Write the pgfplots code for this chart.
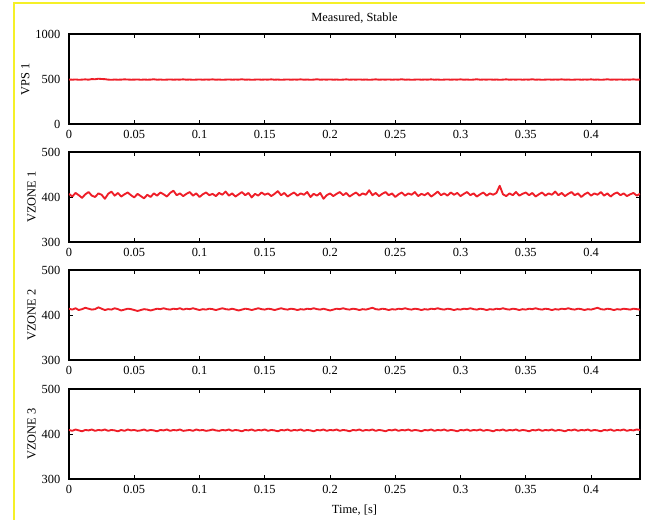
\documentclass[border=0pt]{standalone}
\usepackage{fontspec}
\setmainfont{Liberation Serif}
\usepackage{pgfplots}
\usepackage{pgfplotstable}
\pgfplotsset{compat=1.18}
\definecolor{sigred}{RGB}{238,30,40}
\definecolor{frameyel}{RGB}{245,240,40}

% t, VPS 1, VZONE 1, VZONE 2, VZONE 3
\pgfplotstableread{
t vps z1 z2 z3
0.0000 494 407 414 409
0.0025 492 401 412 407
0.0050 495 409 415 410
0.0075 491 404 411 408
0.0100 493 398 413 406
0.0125 496 406 416 409
0.0150 492 411 414 408
0.0175 499 403 412 410
0.0200 497 400 413 407
0.0225 503 408 417 409
0.0250 500 405 414 408
0.0275 498 396 411 410
0.0300 493 407 413 407
0.0325 491 412 412 409
0.0350 494 403 415 408
0.0375 492 409 413 406
0.0400 493 401 410 409
0.0425 496 406 412 407
0.0450 494 410 414 410
0.0475 492 404 413 408
0.0500 493 399 411 409
0.0525 495 407 409 407
0.0550 491 402 411 408
0.0575 494 397 413 410
0.0600 492 405 412 407
0.0625 493 400 410 409
0.0650 497 408 412 408
0.0675 492 403 414 406
0.0700 494 410 413 409
0.0725 491 406 415 408
0.0750 493 401 413 410
0.0775 495 409 412 407
0.0800 492 414 414 409
0.0825 494 404 413 408
0.0850 493 408 415 410
0.0875 496 402 412 407
0.0900 492 407 414 408
0.0925 494 411 413 409
0.0950 491 403 415 407
0.0975 493 408 413 410
0.1000 495 400 411 408
0.1025 492 406 413 409
0.1050 494 410 412 407
0.1075 493 404 414 408
0.1100 496 407 413 410
0.1125 492 402 411 408
0.1150 494 409 413 407
0.1175 491 405 415 409
0.1200 493 412 413 408
0.1225 495 403 412 410
0.1250 492 408 414 407
0.1275 494 401 412 409
0.1300 493 406 410 408
0.1325 497 411 412 406
0.1350 492 404 414 409
0.1375 494 409 413 408
0.1400 491 399 411 410
0.1425 493 407 413 407
0.1450 495 403 415 409
0.1475 492 410 413 408
0.1500 494 405 412 410
0.1525 493 408 414 407
0.1550 496 402 413 409
0.1575 492 407 411 408
0.1600 494 413 413 406
0.1625 491 404 415 409
0.1650 493 409 413 408
0.1675 495 401 412 410
0.1700 492 406 414 407
0.1725 494 410 413 409
0.1750 493 403 411 408
0.1775 496 408 413 410
0.1800 492 405 412 407
0.1825 494 411 414 409
0.1850 491 400 413 408
0.1875 493 407 415 406
0.1900 497 403 413 409
0.1925 492 409 412 408
0.1950 494 396 414 410
0.1975 493 404 412 407
0.2000 495 408 410 409
0.2025 492 402 412 408
0.2050 494 407 414 410
0.2075 491 411 413 407
0.2100 493 404 415 409
0.2125 496 409 413 408
0.2150 492 401 412 406
0.2175 494 406 414 409
0.2200 493 410 413 408
0.2225 495 403 411 410
0.2250 492 408 413 407
0.2275 494 405 412 409
0.2300 491 415 414 408
0.2325 493 404 416 410
0.2350 496 409 413 407
0.2375 492 402 412 409
0.2400 494 407 414 408
0.2425 493 411 413 406
0.2450 495 404 411 409
0.2475 492 408 413 408
0.2500 494 400 412 410
0.2525 493 406 414 407
0.2550 497 410 413 409
0.2575 492 403 415 408
0.2600 494 408 413 410
0.2625 491 405 412 407
0.2650 493 411 414 409
0.2675 495 402 413 408
0.2700 492 407 411 406
0.2725 494 404 413 409
0.2750 493 409 412 408
0.2775 496 401 414 410
0.2800 492 406 413 407
0.2825 494 412 415 409
0.2850 491 404 413 408
0.2875 493 408 412 410
0.2900 495 403 414 407
0.2925 492 410 413 409
0.2950 494 405 411 408
0.2975 493 409 413 406
0.3000 496 402 412 409
0.3025 492 407 414 408
0.3050 494 411 413 410
0.3075 491 404 415 407
0.3100 493 408 413 409
0.3125 497 401 412 408
0.3150 492 406 414 410
0.3175 494 410 413 407
0.3200 493 403 411 409
0.3225 495 408 413 408
0.3250 492 405 412 406
0.3275 494 409 414 409
0.3300 491 425 413 408
0.3325 493 406 415 410
0.3350 496 402 413 407
0.3375 492 408 412 409
0.3400 494 404 414 408
0.3425 493 411 413 410
0.3450 495 403 411 407
0.3475 492 407 413 409
0.3500 494 410 412 408
0.3525 493 404 414 406
0.3550 497 409 413 409
0.3575 492 401 415 408
0.3600 494 406 413 410
0.3625 491 410 412 407
0.3650 493 403 414 409
0.3675 495 408 413 408
0.3700 492 405 411 410
0.3725 494 412 413 407
0.3750 493 404 412 409
0.3775 496 409 414 408
0.3800 492 402 413 406
0.3825 494 407 415 409
0.3850 491 411 413 408
0.3875 493 404 412 410
0.3900 495 408 414 407
0.3925 492 400 413 409
0.3950 494 406 411 408
0.3975 493 410 413 410
0.4000 496 403 412 407
0.4025 492 408 414 409
0.4050 494 405 416 408
0.4075 491 411 413 406
0.4100 493 403 412 409
0.4125 497 408 414 408
0.4150 492 401 413 410
0.4175 494 407 411 407
0.4200 493 410 413 409
0.4225 495 404 412 408
0.4250 492 408 414 410
0.4275 494 402 413 407
0.4300 493 406 412 409
0.4325 496 409 414 408
0.4350 492 403 413 410
0.4375 494 407 412 409
}\sig

\pgfplotsset{
 panel/.style={scale only axis,width=428.25pt,height=67.5pt,
  xmin=0,xmax=0.4375,
  xtick={0,0.05,0.1,0.15,0.2,0.25,0.3,0.35,0.4},
  xticklabels={0,0.05,0.1,0.15,0.2,0.25,0.3,0.35,0.4},
  tick align=inside,major tick length=3pt,
  axis line style={line width=0.8pt},
  tick style={line width=0.6pt,black},
  every tick label/.append style={font=\fontsize{9.3}{11}\selectfont},
  label style={font=\fontsize{9.3}{11}\selectfont},
  title style={font=\fontsize{9.3}{11}\selectfont,yshift=-1.5pt},
  ymin=300,ymax=500,ytick={300,400,500},yticklabels={300,400,500},
  xticklabel style={yshift=-1.5pt},
  yticklabel style={xshift=-3pt},
  xlabel style={yshift=-1.5pt},
  ylabel shift=-2.5pt,
  anchor=south west},
 sig/.style={sigred,line width=1.4pt,line join=round}
}

\begin{document}
\begin{tikzpicture}
\useasboundingbox (0,0) rectangle (489pt,390pt);
\draw[frameyel,line width=0.8pt] (10.5pt,0) -- (10.5pt,387.75pt) -- (483.75pt,387.75pt);

\begin{axis}[panel,at={(51.75pt,297pt)},ymin=0,ymax=1000,
 ytick={0,500,1000},yticklabels={0,500,1000},
 ylabel={VPS 1},title={Measured, Stable}]
 \addplot[sig] table[x=t,y=vps]{\sig};
\end{axis}

\begin{axis}[panel,at={(51.75pt,208.5pt)},ylabel={VZONE 1}]
 \addplot[sig] table[x=t,y=z1]{\sig};
\end{axis}

\begin{axis}[panel,at={(51.75pt,120pt)},ylabel={VZONE 2}]
 \addplot[sig] table[x=t,y=z2]{\sig};
\end{axis}

\begin{axis}[panel,at={(51.75pt,30.75pt)},ylabel={VZONE 3},xlabel={Time, [s]}]
 \addplot[sig] table[x=t,y=z3]{\sig};
\end{axis}
\end{tikzpicture}
\end{document}
